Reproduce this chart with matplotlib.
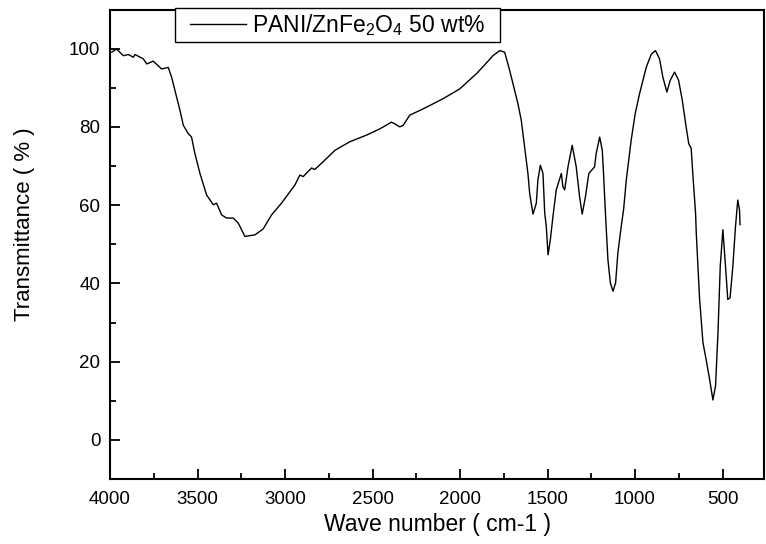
import matplotlib
matplotlib.use("Agg")
import matplotlib.pyplot as plt
from matplotlib.ticker import MultipleLocator

plt.rcParams['font.family'] = ['Liberation Sans', 'DejaVu Sans']
plt.rcParams['mathtext.fontset'] = 'custom'
plt.rcParams['mathtext.rm'] = 'Liberation Sans'
plt.rcParams['mathtext.it'] = 'Liberation Sans:italic'

wavenumber = [3990, 3962, 3924, 3895, 3867, 3857, 3810, 3790, 3753, 3705, 3667, 3648,
              3619, 3600, 3581, 3553, 3534, 3515, 3486, 3448, 3410, 3391, 3362, 3334,
              3296, 3267, 3229, 3172, 3125, 3077, 3020, 2972, 2944, 2915, 2896, 2848,
              2830, 2782, 2715, 2630, 2534, 2458, 2392, 2373, 2344, 2325, 2287, 2211,
              2097, 2002, 1906, 1840, 1812, 1773, 1745, 1716, 1697, 1669, 1650, 1631,
              1612, 1602, 1583, 1564, 1555, 1541, 1526, 1516, 1507, 1497, 1484, 1469,
              1450, 1421, 1412, 1402, 1383, 1359, 1336, 1317, 1302, 1283, 1264, 1231,
              1222, 1202, 1187, 1180, 1168, 1155, 1141, 1126, 1111, 1098, 1079, 1065,
              1050, 1022, 999, 974, 936, 907, 883, 860, 841, 818, 799, 774, 751, 730,
              708, 693, 679, 670, 654, 650, 631, 612, 594, 574, 555, 540, 526, 513,
              498, 483, 470, 457, 441, 426, 413, 403, 400]
transmittance = [99.1, 99.9, 98.2, 98.5, 97.8, 98.5, 97.4, 96.1, 96.8, 94.8, 95.2, 92.7,
                 87.6, 84.2, 80.4, 78.3, 77.4, 73.2, 68.1, 62.6, 60.1, 60.5, 57.5, 56.7,
                 56.7, 55.4, 52.0, 52.4, 53.9, 57.5, 60.5, 63.4, 65.1, 67.7, 67.3, 69.5,
                 69.1, 71.1, 74.0, 76.2, 77.9, 79.5, 81.2, 80.8, 80.0, 80.4, 83.0, 84.6,
                 87.2, 89.7, 93.6, 96.8, 98.2, 99.5, 99.1, 94.4, 91.0, 85.9, 81.7, 74.9,
                 68.1, 63.0, 57.7, 60.5, 66.4, 70.2, 68.1, 58.0, 54.5, 47.3, 51.1, 57.1,
                 63.9, 68.1, 64.7, 63.9, 69.8, 75.3, 69.8, 62.2, 57.7, 62.2, 68.1, 69.8,
                 73.2, 77.4, 74.0, 68.1, 57.0, 46.1, 40.1, 38.0, 40.1, 47.8, 54.5, 59.0,
                 66.4, 76.6, 83.4, 88.5, 95.2, 98.6, 99.5, 97.4, 92.7, 88.9, 91.9, 94.0,
                 91.9, 86.8, 80.0, 75.7, 74.5, 68.1, 57.9, 52.8, 35.9, 24.9, 20.6, 15.5,
                 10.2, 13.8, 27.4, 44.4, 53.7, 44.4, 35.9, 36.3, 44.4, 54.5, 61.3, 58.8,
                 55.0]

legend_label = 'PANI/ZnFe$_2$O$_4$ 50 wt%'
xlabel = 'Wave number ( cm-1 )'
ylabel = 'Transmittance ( % )'

fig = plt.figure(figsize=(7.66, 5.44), dpi=100)
ax = fig.add_axes([0.1436, 0.1195, 0.8538, 0.863])
ax.plot(wavenumber, transmittance, color='black', lw=1.0, label=legend_label)

ax.set_xlim(4000, 263)
ax.set_ylim(-10, 110)
ax.xaxis.set_major_locator(MultipleLocator(500))
ax.xaxis.set_minor_locator(MultipleLocator(250))
ax.yaxis.set_major_locator(MultipleLocator(20))
ax.yaxis.set_minor_locator(MultipleLocator(10))
ax.tick_params(which='both', direction='in', width=1.3, labelsize=13.5, top=False, right=False)
ax.tick_params(which='major', length=7)
ax.tick_params(which='minor', length=4)
ax.tick_params(axis='x', pad=9)
ax.tick_params(axis='y', pad=7)
for s in ax.spines.values():
    s.set_linewidth(1.5)

ax.set_xlabel(xlabel, fontsize=16.5, labelpad=3)
ax.set_ylabel(ylabel, fontsize=16)
ax.yaxis.set_label_coords(-0.115, 0.543)

leg = ax.legend(loc='upper left', bbox_to_anchor=(0.1162, 1.003), fontsize=16.5,
                frameon=True, fancybox=False, framealpha=1, edgecolor='black',
                handlelength=2.45, handletextpad=0.28, borderpad=0.17, borderaxespad=0)
frame = leg.get_frame()
frame.set_linewidth(1.0)
frame.set_boxstyle('square', pad=0.48)
frame.set_mutation_aspect(0.01)

fig.savefig('out.png', dpi=100)
